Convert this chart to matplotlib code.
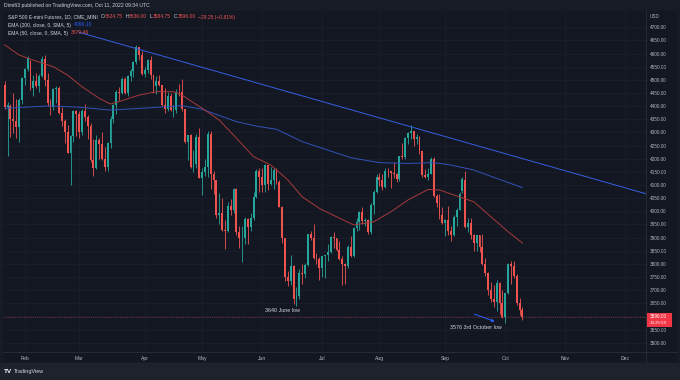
import numpy as np
import pandas as pd
import matplotlib
matplotlib.use("Agg")
import matplotlib.pyplot as plt
from matplotlib.patches import Rectangle
from matplotlib.lines import Line2D

# ES1! daily bars, Jan 21 - Oct 11 2022
opens = [4480, 4395, 4400, 4352, 4345, 4320, 4425,
         4508, 4540, 4570, 4470, 4495, 4478, 4516, 4580, 4498, 4412, 4395, 4465, 4470, 4375, 4342, 4300, 4222, 4285, 4380,
         4370, 4300, 4382, 4360, 4325, 4195, 4165, 4272, 4255, 4200, 4167, 4258, 4352, 4405, 4455, 4450, 4505, 4450, 4515, 4535, 4568, 4625, 4595,
         4524, 4538, 4575, 4518, 4475, 4495, 4480, 4405, 4390, 4440, 4385, 4385, 4455, 4452, 4388, 4265, 4290, 4170, 4178, 4282,
         4128, 4150, 4170, 4295, 4140, 4118, 3985, 3995, 3930, 3925, 4020, 4005, 4085, 3920, 3898, 3900, 3970, 3940, 3975, 4055, 4155,
         4130, 4100, 4175, 4105, 4120, 4158, 4112, 4015, 3898, 3748, 3735, 3790, 3668, 3677, 3765, 3760, 3795, 3912, 3900, 3822, 3820,
         3785, 3828, 3832, 3845, 3902, 3898, 3854, 3818, 3800, 3790, 3863, 3830, 3937, 3960, 3999, 3962, 3967, 3921, 4024, 4072,
         4130, 4118, 4092, 4155, 4152, 4146, 4140, 4122, 4210, 4207, 4280, 4297, 4305, 4274, 4283, 4228, 4138, 4129, 4141, 4199, 4058, 4031, 3986,
         3955, 3967, 3924, 3908, 3980, 4006, 4077, 4120, 3942, 3955, 3910, 3880, 3908, 3865, 3800, 3765, 3700, 3665, 3655, 3728, 3650,
         3598, 3688, 3798, 3790, 3755, 3650, 3624.75]
highs = [4494, 4417, 4410, 4450, 4428, 4430, 4512,
         4546, 4591, 4575, 4520, 4525, 4524, 4590, 4595, 4527, 4427, 4468, 4475, 4475, 4395, 4350, 4330, 4290, 4385, 4386,
         4380, 4390, 4410, 4365, 4335, 4275, 4290, 4280, 4300, 4245, 4265, 4362, 4410, 4460, 4472, 4510, 4512, 4518, 4540, 4570, 4631, 4625, 4610,
         4550, 4580, 4590, 4520, 4515, 4518, 4482, 4470, 4452, 4450, 4405, 4465, 4485, 4505, 4390, 4290, 4295, 4235, 4295, 4315,
         4165, 4200, 4305, 4305, 4155, 4120, 4070, 4050, 3965, 4035, 4045, 4090, 4090, 3945, 3945, 3980, 3975, 3995, 4075, 4160, 4165,
         4165, 4180, 4175, 4170, 4165, 4165, 4120, 4020, 3900, 3772, 3835, 3795, 3710, 3780, 3800, 3805, 3915, 3925, 3950, 3840, 3825,
         3830, 3835, 3875, 3905, 3920, 3900, 3885, 3830, 3805, 3870, 3905, 3940, 3975, 4000, 4015, 3975, 3970, 4030, 4080, 4140,
         4145, 4140, 4165, 4165, 4155, 4188, 4145, 4212, 4258, 4282, 4300, 4327, 4305, 4293, 4285, 4230, 4160, 4165, 4205, 4205, 4065, 4065, 4015,
         3970, 4020, 3945, 3985, 4012, 4075, 4130, 4155, 3975, 3975, 3915, 3910, 3910, 3915, 3822, 3770, 3732, 3720, 3740, 3730, 3700,
         3690, 3802, 3812, 3812, 3760, 3670, 3636]
lows = [4390, 4212, 4284, 4297, 4280, 4262, 4408,
        4482, 4535, 4460, 4440, 4470, 4455, 4512, 4478, 4400, 4365, 4385, 4412, 4370, 4325, 4260, 4220, 4101, 4262, 4285,
        4277, 4290, 4345, 4275, 4188, 4135, 4160, 4200, 4195, 4155, 4155, 4240, 4335, 4370, 4425, 4445, 4448, 4440, 4495, 4510, 4560, 4575, 4520,
        4510, 4525, 4505, 4450, 4445, 4475, 4400, 4375, 4380, 4380, 4360, 4375, 4440, 4380, 4260, 4195, 4165, 4150, 4165, 4125,
        4060, 4135, 4130, 4085, 4065, 3975, 3950, 3925, 3855, 3920, 3985, 3995, 3910, 3860, 3807, 3875, 3875, 3925, 3965, 4050, 4075,
        4075, 4075, 4080, 4100, 4085, 4105, 4015, 3880, 3735, 3715, 3720, 3647, 3639.5, 3665, 3725, 3745, 3790, 3890, 3820, 3800, 3740,
        3750, 3745, 3810, 3840, 3860, 3850, 3815, 3720, 3725, 3785, 3825, 3825, 3925, 3930, 3950, 3945, 3912, 3915, 3990, 4070,
        4095, 4080, 4090, 4130, 4090, 4125, 4110, 4115, 4200, 4200, 4255, 4275, 4250, 4255, 4218, 4132, 4125, 4120, 4140, 4055, 4015, 3970, 3950,
        3905, 3910, 3887, 3905, 3945, 4005, 4070, 3938, 3920, 3895, 3850, 3850, 3845, 3795, 3755, 3680, 3655, 3637, 3622, 3610, 3595,
        3576, 3685, 3722, 3745, 3642, 3605, 3584.75]
closes = [4395, 4406, 4350, 4345, 4320, 4425, 4508,
          4540, 4583, 4470, 4495, 4478, 4516, 4580, 4498, 4412, 4395, 4465, 4470, 4375, 4342, 4300, 4222, 4285, 4380, 4370,
          4300, 4382, 4360, 4325, 4195, 4165, 4272, 4255, 4200, 4167, 4258, 4352, 4405, 4455, 4450, 4505, 4450, 4515, 4535, 4568, 4625, 4595, 4524,
          4538, 4575, 4518, 4475, 4495, 4480, 4405, 4390, 4440, 4385, 4385, 4455, 4452, 4388, 4265, 4290, 4170, 4178, 4282, 4128,
          4150, 4170, 4295, 4140, 4118, 3985, 3995, 3930, 3925, 4020, 4005, 4085, 3920, 3898, 3900, 3970, 3940, 3975, 4055, 4155, 4130,
          4100, 4175, 4105, 4120, 4158, 4112, 4015, 3898, 3748, 3735, 3790, 3668, 3677, 3765, 3760, 3795, 3912, 3900, 3822, 3820, 3785,
          3828, 3832, 3845, 3902, 3898, 3854, 3818, 3800, 3790, 3863, 3830, 3937, 3960, 3999, 3962, 3967, 3921, 4024, 4072, 4130,
          4118, 4092, 4155, 4152, 4146, 4140, 4122, 4210, 4207, 4280, 4297, 4305, 4274, 4283, 4228, 4138, 4129, 4141, 4199, 4058, 4031, 3986, 3955,
          3967, 3924, 3908, 3980, 4006, 4067, 4122, 3942, 3955, 3910, 3880, 3908, 3865, 3800, 3765, 3700, 3665, 3655, 3728, 3650, 3598,
          3688, 3798, 3790, 3755, 3650, 3624.75, 3596]

# indicator lines, sampled at bar positions
ema200_x = [0, 16, 26, 37, 51, 62, 69, 81, 88, 95, 104, 117, 121, 124, 131, 141, 150, 156, 164, 172, 181]
ema200_v = [4392, 4401, 4396, 4385, 4394, 4402, 4388, 4341, 4324, 4312, 4265, 4218, 4204, 4198, 4185, 4182, 4185,
            4176, 4157, 4125, 4090]
ema50_x = [0, 5, 10, 17, 22, 27, 33, 37, 41, 47, 53, 59, 62, 69, 75, 81, 87, 93, 99, 104, 110, 116, 122, 129, 135,
           141, 148, 152, 157, 164, 170, 176, 181]
ema50_v = [4633, 4595, 4575, 4550, 4518, 4474, 4430, 4408, 4421, 4442, 4455, 4455, 4442, 4392, 4347, 4278, 4208,
           4176, 4119, 4055, 4011, 3979, 3948, 3960, 3998, 4043, 4083, 4081, 4062, 4036, 3979, 3922, 3879]
trend_x = [26, 226]
trend_v = [4681, 4061]

holidays = ["2022-02-21", "2022-04-15", "2022-05-30", "2022-06-20", "2022-07-04",
            "2022-09-05", "2022-11-24", "2022-12-26"]
month_names = ["Feb", "Mar", "Apr", "May", "Jun", "Jul", "Aug", "Sep", "Oct", "Nov", "Dec"]

W, H = 680, 380
BG = "#131722"
TXT = "#b2b5be"
UP, DOWN = "#26a69a", "#ef5350"

days = pd.date_range("2022-01-21", "2022-12-30",
                     freq=pd.offsets.CustomBusinessDay(holidays=holidays))
month_idx = [int(np.argmax(days.month == m)) for m in range(2, 13)]


def fx(x):
    return x / W


def fy(y):
    return 1 - y / H


plt.rcParams["font.family"] = ["Liberation Sans", "DejaVu Sans"]
fig = plt.figure(figsize=(W / 100, H / 100), dpi=100, facecolor="#171b26")

# chart panel and bottom strip
panel = Rectangle((fx(3), fy(362)), fx(674), 351 / H, transform=fig.transFigure,
                  facecolor=BG, edgecolor="none", zorder=-2)
strip = Rectangle((0, 0), 1, 17 / H, transform=fig.transFigure,
                  facecolor="#1e222d", edgecolor="none", zorder=-2)
fig.patches.extend([panel, strip])

ax = fig.add_axes([fx(4), fy(352), fx(642), 341 / H])
ax.set_zorder(1)
ax.set_facecolor(BG)
ax.set_xlim(-0.25, 224.2)
ax.set_ylim(3464.5, 4762)

idx = np.arange(len(closes))
o = np.array(opens)
c = np.array(closes)
up = c >= o
colors = np.where(up, UP, DOWN)
ax.vlines(idx, lows, highs, colors=colors, lw=0.6, zorder=3)
body_h = np.maximum(np.abs(c - o), 1.5)
ax.bar(idx, body_h, bottom=np.minimum(o, c), width=0.66, color=colors, linewidth=0, zorder=4)

ax.plot(ema200_x, ema200_v, color="#3452b8", lw=0.7, zorder=5)
ax.plot(ema50_x, ema50_v, color="#a83a3a", lw=0.7, zorder=5)
ax.plot(trend_x, trend_v, color="#3560e0", lw=0.7, zorder=5)
ax.axhline(closes[-1], color=DOWN, lw=0.5, ls=(0, (1, 1.6)), alpha=0.8, zorder=2)

# grid / ticks
ax.set_yticks(np.arange(3500, 4701, 50))
ax.set_xticks(month_idx)
ax.set_xticklabels(month_names)
ax.grid(True, color="#1c2030", lw=0.5, zorder=0)
ax.yaxis.tick_right()
ax.yaxis.set_major_formatter(plt.FuncFormatter(lambda v, p: "" if v == 3600 else f"{v:.2f}"))
ax.tick_params(axis="y", length=0, pad=3, labelsize=3.4, labelcolor=TXT)
ax.tick_params(axis="x", length=0, pad=3, labelsize=3.6, labelcolor=TXT)
for s in ax.spines.values():
    s.set_visible(False)

fig.add_artist(Line2D([fx(646), fx(646)], [fy(11), fy(362)], color="#2a2e39", lw=0.6))
fig.add_artist(Line2D([fx(3), fx(677)], [fy(352), fy(352)], color="#2a2e39", lw=0.6))

# annotations
ax.text(97, 3621, "3640 June low", color="#d1d4dc", fontsize=3.9, ha="center", va="center", zorder=6)
ax.text(164.8, 3557, "3576 3rd October low", color="#d1d4dc", fontsize=3.9, ha="center", va="center", zorder=6)
ax.annotate("", xy=(172.2, 3577), xytext=(163.3, 3612),
            arrowprops=dict(arrowstyle="-|>", color="#2962ff", lw=0.7, mutation_scale=4), zorder=6)

# header and legend
fig.text(fx(4), fy(6), "Dimi63 published on TradingView.com, Oct 11, 2022 09:34 UTC",
         color="#d1d4dc", fontsize=3.7, va="center")

renderer = fig.canvas.get_renderer()


def chain(x0, y, pieces, size=3.6):
    # lay out text pieces one after another on one line
    x = x0
    for txt, col, gap in pieces:
        t = fig.text(fx(x), fy(y), txt, color=col, fontsize=size, va="center")
        x += t.get_window_extent(renderer).width + gap


LEG = "#d1d4dc"
chain(8, 17, [("S&P 500 E-mini Futures, 1D, CME_MINI", LEG, 3),
              ("O", LEG, 0.3), ("3624.75", DOWN, 2.5),
              ("H", LEG, 0.3), ("3636.00", DOWN, 2.5),
              ("L", LEG, 0.3), ("3584.75", DOWN, 2.5),
              ("C", LEG, 0.3), ("3596.00", DOWN, 2.5),
              ("\u221229.25 (\u22120.81%)", DOWN, 0)])
chain(8, 25, [("EMA (200, close, 0, SMA, 5)", LEG, 3), ("4090.10", "#2962ff", 0)])
chain(8, 33, [("EMA (50, close, 0, SMA, 5)", LEG, 3), ("3879.46", DOWN, 0)])

# price scale extras
fig.text(fx(650), fy(17), "USD", color=TXT, fontsize=3.4, va="center")
box = Rectangle((fx(647), fy(327)), fx(25), 14 / H, transform=fig.transFigure,
                facecolor="#f23645", edgecolor="none", zorder=5)
fig.patches.append(box)
fig.text(fx(650), fy(317), "3596.00", color="white", fontsize=3.4, va="center", zorder=6)
fig.text(fx(650), fy(323.5), "13:25:59", color="white", fontsize=3.2, va="center", zorder=6)

# footer logo
fig.text(fx(4), fy(371.5), "TV", color="white", fontsize=4.6, fontweight="bold", va="center")
fig.text(fx(14), fy(371.5), "TradingView", color="#d1d4dc", fontsize=4.0, va="center")

fig.savefig("out.png", dpi=100, facecolor=fig.get_facecolor())
